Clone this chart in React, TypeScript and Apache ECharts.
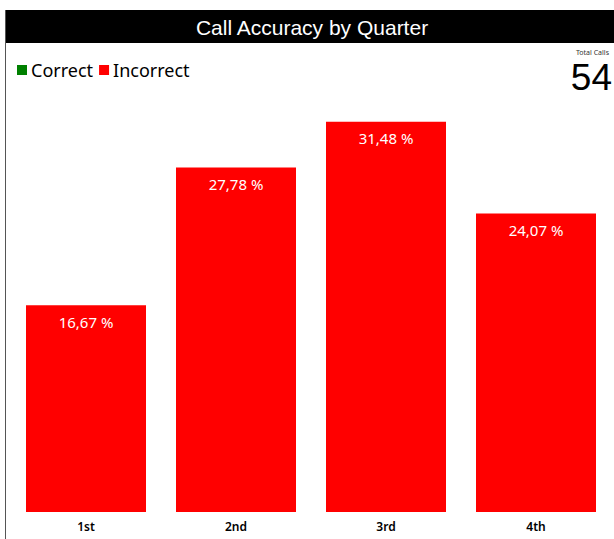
import React, { useEffect, useRef } from "react";
import * as echarts from "echarts";

const quarters = ["1st", "2nd", "3rd", "4th"];
const correctValues = [0, 0, 0, 0];
const incorrectValues = [16.67, 27.78, 31.48, 24.07];
const totalCalls = 54;
const chartTitle = "Call Accuracy by Quarter";

export default function App() {
  const ref = useRef<HTMLDivElement>(null);
  useEffect(() => {
    if (!ref.current) return;
    const chart = echarts.init(ref.current, undefined, { renderer: "svg" });
    const font = "Noto Sans";
    chart.setOption({
      animation: false,
      backgroundColor: "#ffffff",
      graphic: [
        { type: "rect", shape: { x: 5, y: 10, width: 609, height: 33 }, style: { fill: "#000000" }, z: 0 },
        { type: "line", shape: { x1: 5.5, y1: 10, x2: 5.5, y2: 539 }, style: { stroke: "#555555", lineWidth: 1 }, z: 0 },
        {
          type: "text",
          x: 312,
          y: 27,
          style: {
            text: chartTitle,
            fill: "#ffffff",
            font: "21px 'Liberation Sans', Arial, sans-serif",
            align: "center",
            verticalAlign: "middle",
          },
          z: 1,
        },
        {
          type: "text",
          x: 609,
          y: 52,
          style: {
            text: "Total Calls",
            fill: "#333333",
            font: `7px '${font}'`,
            align: "right",
            verticalAlign: "middle",
          },
        },
        {
          type: "text",
          x: 612,
          y: 77,
          style: {
            text: String(totalCalls),
            fill: "#000000",
            font: "37px 'Liberation Sans', Arial, sans-serif",
            align: "right",
            verticalAlign: "middle",
          },
        },
      ],
      legend: {
        left: 12,
        top: 56,
        icon: "rect",
        itemWidth: 10,
        itemHeight: 10,
        itemGap: 6,
        textStyle: { fontFamily: font, fontSize: 18, color: "#000000", padding: [0, 0, 0, -1] },
        data: ["Correct", "Incorrect"],
      },
      grid: { left: 11, right: 3, bottom: 27, top: 16, containLabel: false },
      xAxis: {
        type: "category",
        data: quarters,
        axisLine: { show: false },
        axisTick: { show: false },
        axisLabel: { color: "#000000", fontFamily: font, fontSize: 12, fontWeight: 600, margin: 8 },
      },
      yAxis: { type: "value", min: 0, max: 40, show: false, splitLine: { show: false } },
      series: [
        {
          name: "Correct",
          type: "bar",
          stack: "a",
          data: correctValues,
          itemStyle: { color: "#008000" },
          barCategoryGap: "20%",
          label: { show: false },
        },
        {
          name: "Incorrect",
          type: "bar",
          stack: "a",
          data: incorrectValues,
          itemStyle: { color: "#ff0000" },
          barCategoryGap: "20%",
          label: {
            show: true,
            position: "insideTop",
            distance: 9,
            color: "#ffffff",
            fontFamily: font,
            fontSize: 15,
            formatter: (p: any) => p.value.toFixed(2).replace(".", ",") + " %",
          },
        },
      ],
    });
    return () => chart.dispose();
  }, []);
  return <div ref={ref} style={{ position: "fixed", left: 0, top: 0, width: 614, height: 539 }} />;
}
